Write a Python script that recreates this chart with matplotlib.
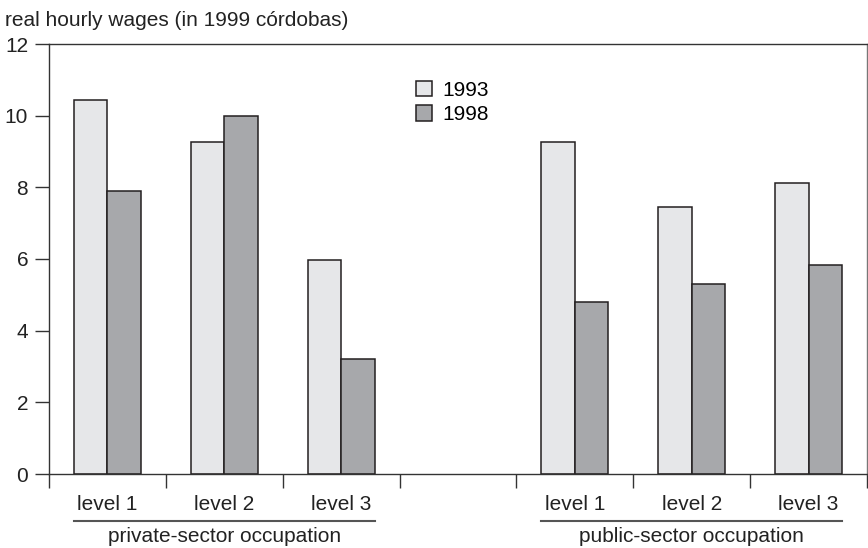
import matplotlib
matplotlib.use("Agg")
import matplotlib.pyplot as plt
import numpy as np

plt.rcParams['font.family'] = ['Liberation Sans', 'DejaVu Sans']

# data
levels = ["level 1", "level 2", "level 3"]
sectors = ["private-sector occupation", "public-sector occupation"]
private_1993 = [10.45, 9.27, 5.97]
private_1998 = [7.9, 10.0, 3.22]
public_1993 = [9.27, 7.46, 8.13]
public_1998 = [4.81, 5.29, 5.82]
years = ["1993", "1998"]
yticks = [0, 2, 4, 6, 8, 10, 12]

c93 = "#e6e7e9"
c98 = "#a7a8ab"
edge = "#231f20"
fs = 15

fig = plt.figure(figsize=(8.68, 5.48), dpi=100)
ax = fig.add_axes([49 / 868, 1 - 474 / 548, 818 / 868, 430 / 548])

# slots 0-2 private, slot 3 empty, 4-6 public
centers = np.array([0.5, 1.5, 2.5, 4.5, 5.5, 6.5])
v93 = private_1993 + public_1993
v98 = private_1998 + public_1998
w = 0.286

ax.bar(centers - w / 2, v93, w, color=c93, edgecolor=edge, linewidth=1.1, label=years[0])
ax.bar(centers + w / 2, v98, w, color=c98, edgecolor=edge, linewidth=1.1, label=years[1])

ax.set_xlim(0, 7)
ax.set_ylim(0, 12)
ax.set_yticks(yticks)
ax.set_xticks(range(8))
ax.set_xticklabels([])
ax.tick_params(axis='both', direction='out', length=10, width=1.0, color="#333333",
               labelsize=fs, labelcolor="#222222")
ax.tick_params(axis='y', pad=5)
for s in ax.spines.values():
    s.set_color("#333333")
    s.set_linewidth(1.0)
ax.spines['right'].set_color("#777777")

# level labels and sector groups
trans = ax.get_xaxis_transform()
for c, lab in zip(centers, levels + levels):
    ax.text(c, -0.072, lab, transform=trans, ha='center', va='center', fontsize=fs, color="#222222")
for k, name in enumerate(sectors):
    grp = centers[k * 3:(k + 1) * 3]
    x0, x1 = grp[0] - w, grp[-1] + w
    ax.plot([x0, x1], [-0.109, -0.109], transform=trans, color="#555555", lw=1.5, clip_on=False)
    ax.text((x0 + x1) / 2, -0.145, name, transform=trans, ha='center', va='center',
            fontsize=fs, color="#222222")

fig.text(5 / 868, 1 - 20 / 548, "real hourly wages (in 1999 córdobas)", ha='left', va='center',
         fontsize=fs, color="#222222")

ax.legend(loc='upper left', bbox_to_anchor=(416 / 868, 1 - 81 / 548), bbox_transform=fig.transFigure,
          frameon=False, fontsize=fs, handlelength=0.78, handleheight=0.75, handletextpad=0.5,
          labelspacing=0.25, borderpad=0, borderaxespad=0)

fig.savefig("out.png", dpi=100)
